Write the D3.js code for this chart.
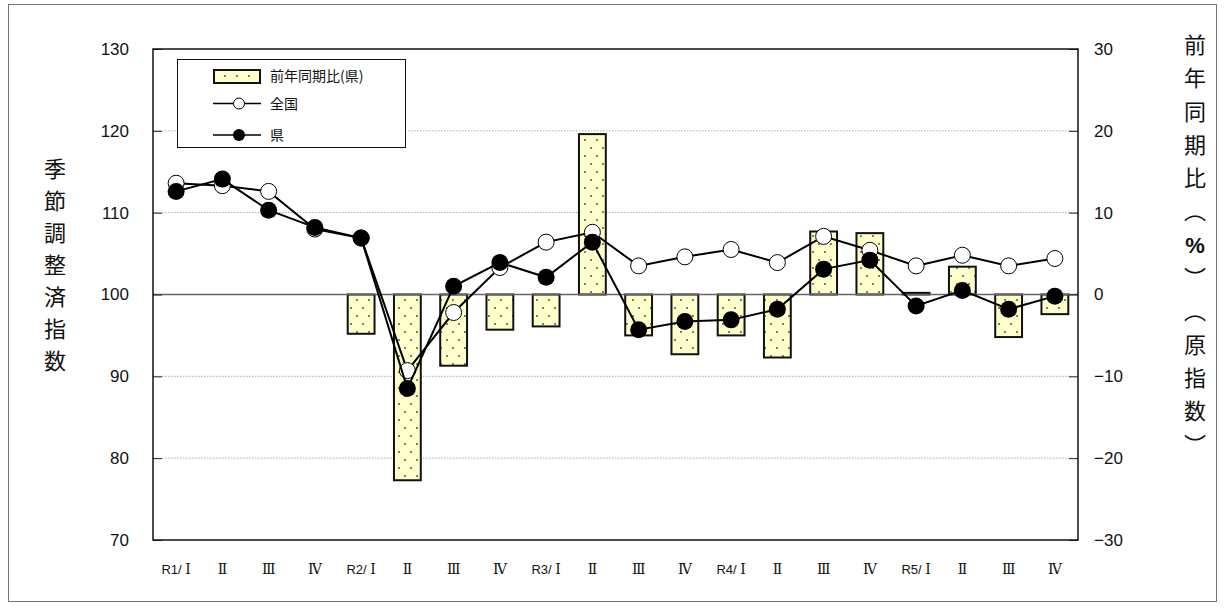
<!DOCTYPE html>
<html><head><meta charset="utf-8">
<script src="https://cdn.jsdelivr.net/npm/d3@7"></script>
<style>
html,body{margin:0;padding:0;background:#fff;}
svg{display:block;}
</style></head>
<body>
<svg id="chart" width="1225" height="608"></svg>
<script>
// ---- data ----
const categories = ["R1/ Ⅰ","Ⅱ","Ⅲ","Ⅳ","R2/ Ⅰ","Ⅱ","Ⅲ","Ⅳ","R3/ Ⅰ","Ⅱ","Ⅲ","Ⅳ","R4/ Ⅰ","Ⅱ","Ⅲ","Ⅳ","R5/ Ⅰ","Ⅱ","Ⅲ","Ⅳ"];
const yoyPref = [null,null,null,null,-4.8,-22.7,-8.7,-4.3,-3.9,19.6,-5.0,-7.3,-5.0,-7.7,7.7,7.5,0.2,3.4,-5.2,-2.4];
const nationalIdx = [113.6,113.3,112.6,108.0,106.9,90.7,97.8,103.3,106.4,107.6,103.5,104.6,105.5,103.9,107.1,105.4,103.5,104.8,103.5,104.4];
const prefIdx = [112.6,114.1,110.3,108.2,106.9,88.5,101.0,103.9,102.1,106.4,95.7,96.7,96.9,98.2,103.1,104.2,98.6,100.5,98.2,99.8];
const leftTicks = [70,80,90,100,110,120,130];
const rightTicks = [-30,-20,-10,0,10,20,30];
const legendLabels = ["前年同期比(県)","全国","県"];
const leftTitle = "季節調整済指数";
const rightTitle = ["前","年","同","期","比","︵","%","︶","︵","原","指","数","︶"];

// ---- layout ----
const svg = d3.select("#chart");
const L = 153, R = 1078, T = 49, B = 540;
const jp = "'Noto Sans CJK JP','Noto Sans',sans-serif";
const num = "'Liberation Sans',Arial,sans-serif";
const roman = "'DejaVu Serif','Noto Sans CJK JP',serif";

const defs = svg.append("defs");
const pat = defs.append("pattern").attr("id","dots").attr("patternUnits","userSpaceOnUse")
  .attr("width",12).attr("height",16);
pat.append("rect").attr("width",12).attr("height",16).attr("fill","#ffffcc");
pat.append("circle").attr("cx",3).attr("cy",4).attr("r",1).attr("fill","#555");
pat.append("circle").attr("cx",9).attr("cy",12).attr("r",1).attr("fill","#555");

// outer frame
svg.append("rect").attr("x",8.5).attr("y",4.5).attr("width",1208).attr("height",597)
  .attr("fill","none").attr("stroke","#777").attr("stroke-width",1);

const idx = categories.map((d,i)=>i);
const x = d3.scaleBand().domain(idx).range([L,R]).paddingInner(0.42).paddingOuter(0.21);
const yL = d3.scaleLinear().domain([70,130]).range([B,T]);
const yR = d3.scaleLinear().domain([-30,30]).range([B,T]);
const cx = i => x(i) + x.bandwidth()/2;

// gridlines
svg.append("g").selectAll("line").data(leftTicks.filter(v=>v!==70 && v!==130 && v!==100)).join("line")
  .attr("x1",L).attr("x2",R).attr("y1",d=>yL(d)).attr("y2",d=>yL(d))
  .attr("stroke","#aaa").attr("stroke-width",1).attr("stroke-dasharray","1.5,1.5");

// bars
svg.append("g").selectAll("rect").data(yoyPref.map((v,i)=>({v,i})).filter(d=>d.v!==null)).join("rect")
  .attr("x",d=>x(d.i)).attr("width",x.bandwidth())
  .attr("y",d=>yR(Math.max(0,d.v))).attr("height",d=>Math.abs(yR(d.v)-yR(0)))
  .attr("fill","url(#dots)").attr("stroke","#111").attr("stroke-width",2);

// zero line
svg.append("line").attr("x1",L).attr("x2",R).attr("y1",yL(100)).attr("y2",yL(100))
  .attr("stroke","#666").attr("stroke-width",1.5);

// axes
const axL = d3.axisLeft(yL).tickValues(leftTicks).tickSize(-9).tickPadding(24).tickFormat(d3.format("d"));
const gL = svg.append("g").attr("transform",`translate(${L},0)`).call(axL);
gL.select(".domain").remove();
gL.selectAll("line").attr("stroke","#222");
gL.selectAll("text").attr("font-family",num).attr("font-size",17).attr("fill","#111");

const axR = d3.axisRight(yR).tickValues(rightTicks).tickSize(-9).tickPadding(16)
  .tickFormat(d=> d<0 ? "−"+Math.abs(d) : String(d));
const gR = svg.append("g").attr("transform",`translate(${R},0)`).call(axR);
gR.select(".domain").remove();
gR.selectAll("line").attr("stroke","#222");
gR.selectAll("text").attr("font-family",num).attr("font-size",17).attr("fill","#111");

const axB = d3.axisBottom(x).tickSize(0).tickPadding(27).tickFormat(i=>categories[i]);
const gB = svg.append("g").attr("transform",`translate(0,${B})`).call(axB);
gB.select(".domain").remove();
gB.selectAll("text").each(function(i){
  const t = d3.select(this);
  const lab = categories[i];
  t.text(null).attr("fill","#111");
  const k = lab.indexOf("/");
  if (k >= 0) {
    t.append("tspan").attr("font-family",num).attr("font-size",13).text(lab.slice(0,k+1) + "\u00a0");
    t.append("tspan").attr("font-family",roman).attr("font-size",14).text(lab.slice(k+2));
  } else {
    t.append("tspan").attr("font-family",roman).attr("font-size",14).text(lab);
  }
});

// plot frame
svg.append("rect").attr("x",L).attr("y",T).attr("width",R-L).attr("height",B-T)
  .attr("fill","none").attr("stroke","#111").attr("stroke-width",1.5);

// lines
const line = d3.line().x((d,i)=>cx(i)).y(d=>yL(d));
svg.append("path").datum(nationalIdx).attr("d",line).attr("fill","none").attr("stroke","#000").attr("stroke-width",2);
svg.append("g").selectAll("circle").data(nationalIdx).join("circle")
  .attr("cx",(d,i)=>cx(i)).attr("cy",d=>yL(d)).attr("r",8)
  .attr("fill","#fff").attr("stroke","#000").attr("stroke-width",1);
svg.append("path").datum(prefIdx).attr("d",line).attr("fill","none").attr("stroke","#000").attr("stroke-width",2);
svg.append("g").selectAll("circle").data(prefIdx).join("circle")
  .attr("cx",(d,i)=>cx(i)).attr("cy",d=>yL(d)).attr("r",8.5).attr("fill","#000");

// legend
const lg = svg.append("g");
lg.append("rect").attr("x",177.5).attr("y",59.5).attr("width",228).attr("height",88)
  .attr("fill","#fff").attr("stroke","#111").attr("stroke-width",1);
lg.append("rect").attr("x",214).attr("y",70).attr("width",46).attr("height",13)
  .attr("fill","url(#dots)").attr("stroke","#111").attr("stroke-width",2);
lg.append("line").attr("x1",213).attr("x2",261).attr("y1",103.5).attr("y2",103.5).attr("stroke","#000").attr("stroke-width",1.5);
lg.append("circle").attr("cx",239).attr("cy",103.5).attr("r",5.5).attr("fill","#fff").attr("stroke","#000");
lg.append("line").attr("x1",213).attr("x2",261).attr("y1",135).attr("y2",135).attr("stroke","#000").attr("stroke-width",1.5);
lg.append("circle").attr("cx",239).attr("cy",135).attr("r",6).attr("fill","#000");
lg.selectAll("text.lt").data(legendLabels).join("text").attr("class","lt")
  .attr("x",270).attr("y",(d,i)=>[76,103.5,135][i]).attr("dy","0.36em")
  .attr("font-family",jp).attr("font-size",14).attr("fill","#111").text(d=>d);

// axis titles
svg.append("g").selectAll("text").data(Array.from(leftTitle)).join("text")
  .attr("x",55).attr("y",(d,i)=>169+i*32).attr("dy","0.36em").attr("text-anchor","middle")
  .attr("font-family",jp).attr("font-size",22).attr("fill","#111").text(d=>d);
svg.append("g").selectAll("text").data(rightTitle).join("text")
  .attr("x",1195).attr("y",(d,i)=>45+i*33.3).attr("dy","0.36em").attr("text-anchor","middle")
  .attr("font-family",d=>d==="%"?num:jp).attr("font-size",22).attr("font-weight",d=>d==="%"?"bold":"normal")
  .attr("fill","#111").text(d=>d);
</script>
</body></html>
